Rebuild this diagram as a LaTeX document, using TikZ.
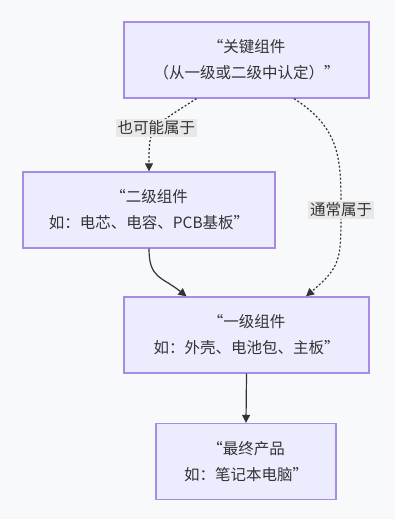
\documentclass[tikz,border=0pt]{standalone}
\usepackage{fontspec}
\setmainfont{Noto Sans CJK SC}
\usetikzlibrary{arrows.meta, calc}

\definecolor{pagebg}{HTML}{F8F9FB}
\definecolor{boxfill}{HTML}{ECECFF}
\definecolor{boxline}{HTML}{A88BE4}
\definecolor{edgecol}{HTML}{333333}
\definecolor{lblfill}{HTML}{E8E8E8}

\begin{document}
\begin{tikzpicture}[
        x=1pt, y=-1pt,
        >={Triangle[length=8pt, width=8pt]},
        font=\fontsize{15.5}{26}\selectfont,
        part/.style={rectangle, draw=boxline, line width=1.3pt, fill=boxfill,
                     minimum height=76pt, align=center, text=edgecol, inner sep=0pt},
        lbl/.style={fill=lblfill, text=edgecol, inner sep=2pt},
        arr/.style={->, draw=edgecol, line width=1.2pt},
        arrd/.style={->, draw=edgecol, line width=1.2pt, dash pattern=on 2pt off 2pt}
    ]

    % page and margins
    \fill[pagebg] (0,0) rectangle (395,519);
    \useasboundingbox (0,0) rectangle (395,519);

    % parts, top to bottom
    \node[part, minimum width=245pt] (key)    at (246.5,60)  {“关键组件\\（从一级或二级中认定）”};
    \node[part, minimum width=252pt] (second) at (149,210)   {“二级组件\\如：电芯、电容、PCB基板”};
    \node[part, minimum width=245pt] (first)  at (246.5,335) {“一级组件\\如：外壳、电池包、主板”};
    \node[part, minimum width=180pt] (final)  at (246,461.5) {“最终产品\\如：笔记本电脑”};

    \coordinate (bend) at (341,210);

    % key -> second (dotted)
    \draw[arrd] ($(key.south)+(-50,0)$) .. controls +(-47,30) and +(0,-45) .. (second.north)
        node[pos=0.47, lbl] {也可能属于};

    % key -> first (dotted, around the right)
    \draw[arrd] ($(key.south)+(47.5,0)$) .. controls +(47,30) and +(0,-50) .. (bend)
        node[lbl] {通常属于}
        .. controls +(0,50) and +(35,-30) .. ($(first.north)+(59.5,0)$);

    % second -> first
    \draw[arr] (second.south) .. controls +(0,30) and +(-25,-20) .. ($(first.north)+(-60,0)$);

    % first -> final
    \draw[arr] (first.south) -- (final.north);

\end{tikzpicture}
\end{document}
